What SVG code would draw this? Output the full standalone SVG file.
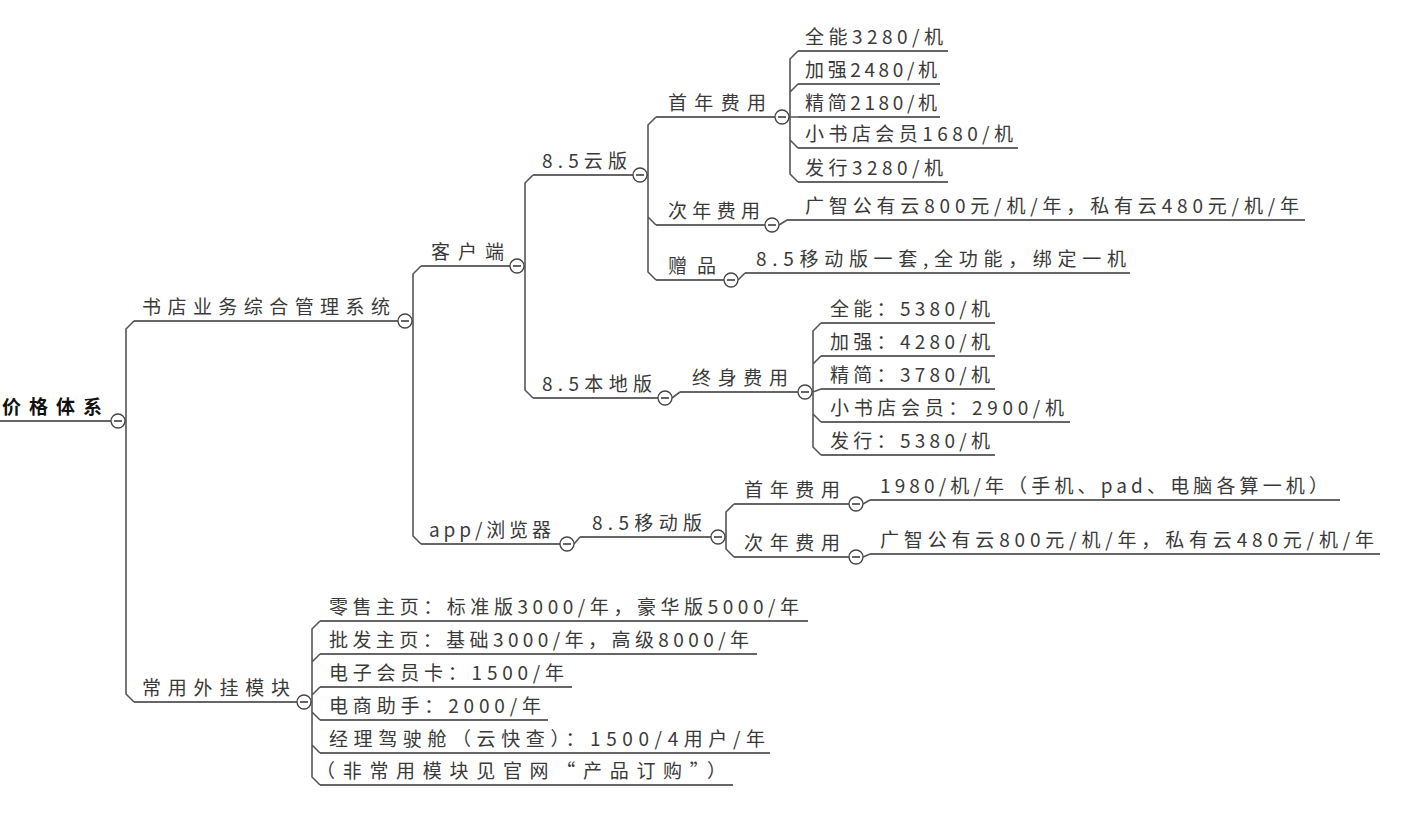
<svg xmlns="http://www.w3.org/2000/svg" width="1411" height="818" viewBox="0 0 1411 818">
<style>
text{font-family:"Noto Sans CJK SC","Liberation Serif",sans-serif;font-size:19px;fill:#3a3a3a}
.root{font-weight:bold;fill:#111}
.u{stroke:#333;stroke-width:1.6;fill:none}
.c path{stroke:#555;stroke-width:1.6;fill:none}
.t circle{fill:#fff;stroke:#444;stroke-width:1.3}
.t line{stroke:#333;stroke-width:1.5}
</style>
<defs>
<g id="tog" class="t"><circle r="7"/><line x1="-4" y1="0" x2="4" y2="0"/></g>
</defs>
<g class="c" id="connectors">
<path d="M125 421H126V329L134 321M126 421V694L134 702"/>
<path d="M412 321H413V274L421 266M413 321V536L421 544"/>
<path d="M524 266H525V183L533 175M525 266V390L533 398"/>
<path d="M647 175H648V125L656 117M648 175V217L656 225M648 175V272L656 280"/>
<path d="M789 117H790V59L798 51M790 117V92L798 84M790 117H798M790 117V140L798 148M790 117V174L798 182"/>
<path d="M779 225L787 220"/>
<path d="M738 280L745 273"/>
<path d="M672 398L680 392"/>
<path d="M812 392H813V331L821 323M813 392V364L821 356M813 392L821 389M813 392V414L821 422M813 392V447L821 455"/>
<path d="M574 544L580 537"/>
<path d="M725 537H726V512L734 504M726 537V549L734 557"/>
<path d="M863 504L870 500M863 557L870 554"/>
<path d="M311 702H312V629L320 621M312 702V662L320 654M312 702V695L320 687M312 702V712L320 720M312 702V745L320 753M312 702V777L320 785"/>
</g>
<g id="n0"><text class="root" x="2" y="414" font-size="20" textLength="100" lengthAdjust="spacing">价格体系</text><path class="u" d="M0 421H111"/><use href="#tog" x="118" y="421"/></g>
<g id="n1"><text x="142" y="314" textLength="248" lengthAdjust="spacing">书店业务综合管理系统</text><path class="u" d="M134 321H398"/><use href="#tog" x="405" y="321"/></g>
<g id="n2"><text x="142" y="695" textLength="148" lengthAdjust="spacing">常用外挂模块</text><path class="u" d="M134 702H297"/><use href="#tog" x="304" y="702"/></g>
<g id="n3"><text x="431" y="259" textLength="73" lengthAdjust="spacing">客户端</text><path class="u" d="M421 266H510"/><use href="#tog" x="517" y="266"/></g>
<g id="n4"><text x="429" y="537" textLength="122" lengthAdjust="spacing">app/浏览器</text><path class="u" d="M421 544H560"/><use href="#tog" x="567" y="544"/></g>
<g id="n5"><text x="542" y="168" textLength="85" lengthAdjust="spacing">8.5云版</text><path class="u" d="M533 175H633"/><use href="#tog" x="640" y="175"/></g>
<g id="n6"><text x="542" y="391" textLength="110" lengthAdjust="spacing">8.5本地版</text><path class="u" d="M533 398H658"/><use href="#tog" x="665" y="398"/></g>
<g id="n7"><text x="668" y="110" textLength="98" lengthAdjust="spacing">首年费用</text><path class="u" d="M656 117H775"/><use href="#tog" x="782" y="117"/></g>
<g id="n8"><text x="668" y="218" textLength="92" lengthAdjust="spacing">次年费用</text><path class="u" d="M656 225H765"/><use href="#tog" x="772" y="225"/></g>
<g id="n9"><text x="668" y="273" textLength="48" lengthAdjust="spacing">赠品</text><path class="u" d="M656 280H724"/><use href="#tog" x="731" y="280"/></g>
<g id="n10"><text x="805" y="44" textLength="138" lengthAdjust="spacing">全能3280/机</text><path class="u" d="M798 51H948"/></g>
<g id="n11"><text x="805" y="77" textLength="132" lengthAdjust="spacing">加强2480/机</text><path class="u" d="M798 84H940"/></g>
<g id="n12"><text x="805" y="110" textLength="132" lengthAdjust="spacing">精简2180/机</text><path class="u" d="M798 117H940"/></g>
<g id="n13"><text x="805" y="141" textLength="208" lengthAdjust="spacing">小书店会员1680/机</text><path class="u" d="M798 148H1018"/></g>
<g id="n14"><text x="805" y="175" textLength="138" lengthAdjust="spacing">发行3280/机</text><path class="u" d="M798 182H948"/></g>
<g id="n15"><text x="805" y="213" textLength="494" lengthAdjust="spacing">广智公有云800元/机/年，私有云480元/机/年</text><path class="u" d="M787 220H1305"/></g>
<g id="n16"><text x="756" y="266" textLength="370" lengthAdjust="spacing">8.5移动版一套,全功能，绑定一机</text><path class="u" d="M745 273H1130"/></g>
<g id="n17"><text x="692" y="385" textLength="96" lengthAdjust="spacing">终身费用</text><path class="u" d="M680 392H798"/><use href="#tog" x="805" y="392"/></g>
<g id="n18"><text x="830" y="316" textLength="160" lengthAdjust="spacing">全能：5380/机</text><path class="u" d="M821 323H995"/></g>
<g id="n19"><text x="830" y="349" textLength="160" lengthAdjust="spacing">加强：4280/机</text><path class="u" d="M821 356H995"/></g>
<g id="n20"><text x="830" y="382" textLength="160" lengthAdjust="spacing">精简：3780/机</text><path class="u" d="M821 389H995"/></g>
<g id="n21"><text x="830" y="415" textLength="234" lengthAdjust="spacing">小书店会员：2900/机</text><path class="u" d="M821 422H1070"/></g>
<g id="n22"><text x="830" y="448" textLength="160" lengthAdjust="spacing">发行：5380/机</text><path class="u" d="M821 455H995"/></g>
<g id="n23"><text x="592" y="530" textLength="110" lengthAdjust="spacing">8.5移动版</text><path class="u" d="M580 537H711"/><use href="#tog" x="718" y="537"/></g>
<g id="n24"><text x="744" y="497" textLength="96" lengthAdjust="spacing">首年费用</text><path class="u" d="M734 504H849"/><use href="#tog" x="856" y="504"/></g>
<g id="n25"><text x="744" y="550" textLength="96" lengthAdjust="spacing">次年费用</text><path class="u" d="M734 557H849"/><use href="#tog" x="856" y="557"/></g>
<g id="n26"><text x="880" y="493" textLength="448" lengthAdjust="spacing">1980/机/年（手机、pad、电脑各算一机）</text><path class="u" d="M870 500H1340"/></g>
<g id="n27"><text x="880" y="547" textLength="494" lengthAdjust="spacing">广智公有云800元/机/年，私有云480元/机/年</text><path class="u" d="M870 554H1380"/></g>
<g id="n28"><text x="329" y="614" textLength="470" lengthAdjust="spacing">零售主页：标准版3000/年，豪华版5000/年</text><path class="u" d="M320 621H808"/></g>
<g id="n29"><text x="329" y="647" textLength="420" lengthAdjust="spacing">批发主页：基础3000/年，高级8000/年</text><path class="u" d="M320 654H757"/></g>
<g id="n30"><text x="329" y="680" textLength="235" lengthAdjust="spacing">电子会员卡：1500/年</text><path class="u" d="M320 687H572"/></g>
<g id="n31"><text x="329" y="713" textLength="212" lengthAdjust="spacing">电商助手：2000/年</text><path class="u" d="M320 720H548"/></g>
<g id="n32"><text x="329" y="746" textLength="436" lengthAdjust="spacing">经理驾驶舱（云快查）：1500/4用户/年</text><path class="u" d="M320 753H770"/></g>
<g id="n33"><text x="316" y="778" textLength="410" lengthAdjust="spacing">（非常用模块见官网“产品订购”）</text><path class="u" d="M320 785H733"/></g>
</svg>
